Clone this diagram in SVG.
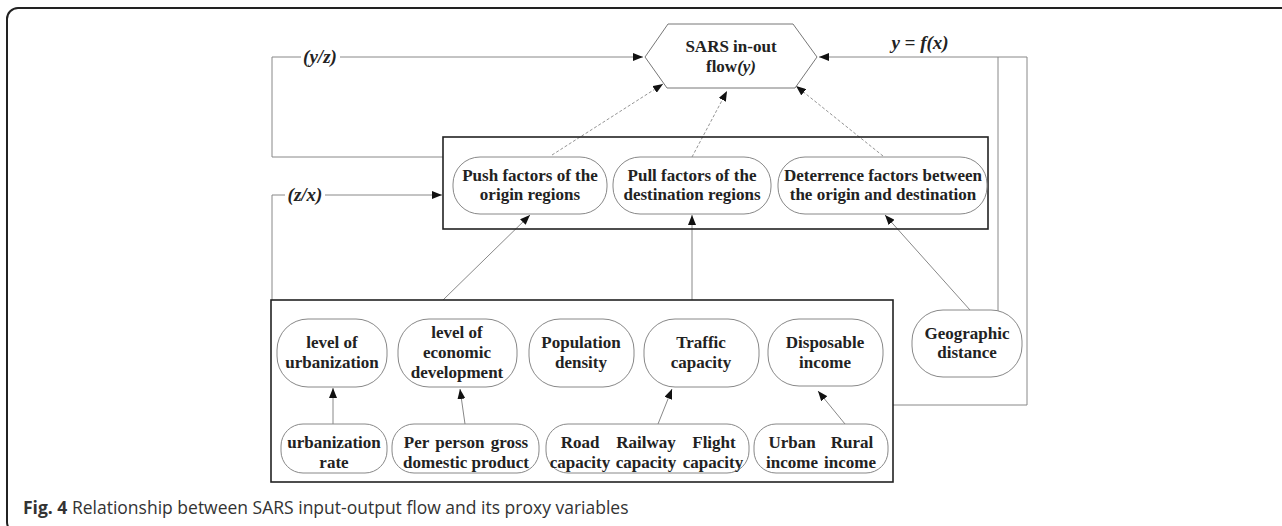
<svg xmlns="http://www.w3.org/2000/svg" width="1282" height="526" viewBox="0 0 1282 526">
<defs>
<marker id="ah" viewBox="0 0 10 8" markerWidth="10" markerHeight="8" refX="10" refY="4" orient="auto" markerUnits="userSpaceOnUse">
<path d="M0,0 L10,4 L0,8 z" fill="#111"/>
</marker>
</defs>
<style>
.frame{fill:none;stroke:#222;stroke-width:2}
.box{fill:none;stroke:#222;stroke-width:1.6}
.node{fill:#fff;stroke:#888;stroke-width:1}
.hex{fill:#fff;stroke:#777;stroke-width:1}
.c{fill:none;stroke:#888;stroke-width:1}
.d{fill:none;stroke:#888;stroke-width:0.9;stroke-dasharray:3 2}
.t{font-family:"Liberation Serif","Times New Roman",serif;font-weight:bold;font-size:17px;fill:#222;text-anchor:middle}
.lbl{font-family:"Liberation Serif","Times New Roman",serif;font-weight:bold;font-style:italic;font-size:19px;fill:#222;text-anchor:middle}
.cap{font-family:"Open Sans",sans-serif;font-size:17.5px;fill:#333}
</style>
<rect class="frame" x="7" y="8" width="1290" height="525" rx="11"/>

<g id="connectors">
<polyline class="c" points="443,157 272,157 272,57 643,57" marker-end="url(#ah)"/>
<polyline class="c" points="272,300 272,195 442,195" marker-end="url(#ah)"/>
<polyline class="c" points="893,405 1027,405 1027,57 819,57" marker-end="url(#ah)"/>
<polyline class="c" points="998,311 998,57"/>
<line class="d" x1="552" y1="155" x2="663" y2="84" marker-end="url(#ah)"/>
<line class="d" x1="692" y1="157" x2="727" y2="91" marker-end="url(#ah)"/>
<line class="d" x1="883" y1="156" x2="796" y2="86" marker-end="url(#ah)"/>
<line class="c" x1="443" y1="300" x2="530" y2="215" marker-end="url(#ah)"/>
<line class="c" x1="692" y1="300" x2="692" y2="215" marker-end="url(#ah)"/>
<line class="c" x1="970" y1="310" x2="885" y2="215" marker-end="url(#ah)"/>
<line class="c" x1="333" y1="424" x2="333" y2="388" marker-end="url(#ah)"/>
<line class="c" x1="465" y1="424" x2="460" y2="389" marker-end="url(#ah)"/>
<line class="c" x1="658" y1="424" x2="672" y2="389" marker-end="url(#ah)"/>
<line class="c" x1="845" y1="424" x2="818" y2="391" marker-end="url(#ah)"/>
</g>

<g id="label-yz"><rect x="301" y="48" width="39" height="18" fill="#fff"/><text class="lbl" x="320" y="63">(y/z)</text></g>
<g id="label-zx"><rect x="285" y="186" width="40" height="18" fill="#fff"/><text class="lbl" x="305" y="201">(z/x)</text></g>
<g id="label-yfx"><text class="lbl" x="920" y="49">y = f(x)</text></g>

<g id="sars">
<polygon class="hex" points="645,57 668,24 793,24 817,57 795,88 667,88"/>
<text class="t" x="731" y="52">SARS in-out</text>
<text class="t" x="731" y="72">flow<tspan font-style="italic">(y)</tspan></text>
</g>

<g id="middle-box"><rect class="box" x="443" y="137" width="545" height="92"/></g>
<g id="bottom-box"><rect class="box" x="271" y="300" width="622" height="182"/></g>

<g id="push">
<rect class="node" x="453" y="157" width="154" height="57" rx="27"/>
<text class="t" x="530" y="181">Push factors of the</text>
<text class="t" x="530" y="200">origin regions</text>
</g>
<g id="pull">
<rect class="node" x="613" y="157" width="158" height="57" rx="27"/>
<text class="t" x="692" y="181">Pull factors of the</text>
<text class="t" x="692" y="200">destination regions</text>
</g>
<g id="deterrence">
<rect class="node" x="778" y="157" width="209" height="57" rx="27"/>
<text class="t" x="883" y="181">Deterrence factors between</text>
<text class="t" x="883" y="200">the origin and destination</text>
</g>

<g id="urbanization">
<rect class="node" x="277" y="319" width="110" height="68" rx="31"/>
<text class="t" x="332" y="348">level of</text>
<text class="t" x="332" y="368">urbanization</text>
</g>
<g id="economic">
<rect class="node" x="398" y="319" width="119" height="68" rx="31"/>
<text class="t" x="457" y="338">level of</text>
<text class="t" x="457" y="358">economic</text>
<text class="t" x="457" y="378">development</text>
</g>
<g id="population">
<rect class="node" x="529" y="319" width="105" height="68" rx="31"/>
<text class="t" x="581" y="348">Population</text>
<text class="t" x="581" y="368">density</text>
</g>
<g id="traffic">
<rect class="node" x="644" y="319" width="115" height="68" rx="31"/>
<text class="t" x="701" y="348">Traffic</text>
<text class="t" x="701" y="368">capacity</text>
</g>
<g id="disposable">
<rect class="node" x="768" y="319" width="115" height="67" rx="31"/>
<text class="t" x="825" y="348">Disposable</text>
<text class="t" x="825" y="368">income</text>
</g>
<g id="geographic">
<rect class="node" x="912" y="310" width="110" height="67" rx="31"/>
<text class="t" x="967" y="339">Geographic</text>
<text class="t" x="967" y="358">distance</text>
</g>

<g id="urbanization-rate">
<rect class="node" x="281" y="424" width="106" height="49" rx="22"/>
<text class="t" x="334" y="448">urbanization</text>
<text class="t" x="334" y="468">rate</text>
</g>
<g id="gdp">
<rect class="node" x="392" y="424" width="147" height="49" rx="22"/>
<text class="t" x="466" y="448" word-spacing="2">Per person gross</text>
<text class="t" x="466" y="468">domestic product</text>
</g>
<g id="capacities">
<rect class="node" x="546" y="424" width="203" height="49" rx="22"/>
<text class="t" x="580" y="448">Road</text>
<text class="t" x="580" y="468">capacity</text>
<text class="t" x="646" y="448">Railway</text>
<text class="t" x="646" y="468">capacity</text>
<text class="t" x="714" y="448">Flight</text>
<text class="t" x="713" y="468">capacity</text>
</g>
<g id="incomes">
<rect class="node" x="754" y="424" width="134" height="49" rx="22"/>
<text class="t" x="792" y="448">Urban</text>
<text class="t" x="792" y="468">income</text>
<text class="t" x="852" y="448">Rural</text>
<text class="t" x="850" y="468">income</text>
</g>

<text class="cap" x="23" y="514"><tspan font-weight="bold">Fig. 4</tspan> Relationship between SARS input-output flow and its proxy variables</text>
</svg>
